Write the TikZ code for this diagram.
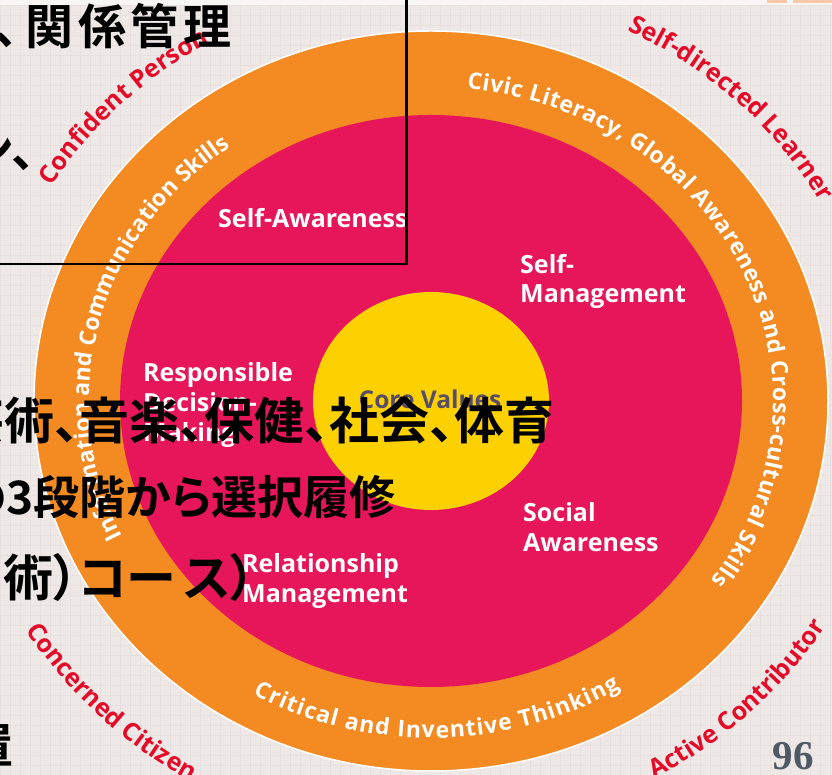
\documentclass[tikz,border=0pt]{standalone}
\usepackage{fontspec}
\usetikzlibrary{decorations.text}
\setmainfont{Open Sans}
\newfontfamily\ringfont{Open Sans}
\newfontfamily\jpfont{Noto Sans CJK JP}[BoldFont={Noto Sans CJK JP Bold}]
\newfontfamily\jpp{Noto Sans CJK JP}[BoldFont={Noto Sans CJK JP Bold},RawFeature=+palt]
\newfontfamily\numfont{Liberation Serif}
\definecolor{bgc}{HTML}{EEE8E6}
\definecolor{gridc}{HTML}{E8E0DE}
\definecolor{peach}{HTML}{F7C9A8}
\definecolor{orangec}{HTML}{F38A22}
\definecolor{magc}{HTML}{E7165B}
\definecolor{yelc}{HTML}{FDD000}
\definecolor{redc}{HTML}{E40A28}
\definecolor{corec}{HTML}{574D68}
\definecolor{slatec}{HTML}{505A66}
\newcommand\ringtext{\ringfont\bfseries\fontsize{23}{23}\selectfont}
\newcommand\redtext{\ringfont\bfseries\fontsize{25}{25}\selectfont}
\tikzset{
  lbl/.style={inner sep=0pt, anchor=base west, text=white, font=\bfseries\fontsize{25}{30}\selectfont},
  jp/.style={inner sep=0pt, anchor=base east, text=black, font=\jpp\bfseries\fontsize{48}{48}\selectfont},
  jpn/.style={inner sep=0pt, anchor=base east, text=black, font=\jpfont\bfseries\fontsize{48}{48}\selectfont},
  ringpath/.style={decorate, decoration={text along path, text color=white, text align=fit to path, text={|\ringtext|#1}}},
  redpath/.style={decorate, decoration={text along path, text color=redc, text align=center, text={|\redtext|#1}}}
}
\begin{document}
\begin{tikzpicture}[x=1pt,y=1pt]
\useasboundingbox (0,0) rectangle (832,775);
\fill[bgc] (0,0) rectangle (832,775);
\draw[gridc, line width=0.4pt, step=10] (0,0) grid (832,775);
\fill[white!60!bgc] (0,770) rectangle (832,775);
\fill[peach] (767,772) rectangle (787,775);
\fill[peach] (793,772) rectangle (832,775);
% circles
\coordinate (c) at (431,374);
\fill[orangec, draw=white, line width=1.5pt] (c) ellipse [x radius=397, y radius=370];
\fill[magc] (c) ellipse [x radius=311, y radius=286];
\fill[yelc] (c) ellipse [x radius=118, y radius=109];
% ring texts
\path[ringpath={Civic Literacy, Global Awareness and Cross-cultural Skills}]
  (c) ++(84:342 and 314) arc[start angle=84, end angle=-35, x radius=342, y radius=314];
\path[ringpath={Information and Communication Skills}]
  (c) ++(205.5:342 and 314) arc[start angle=205.5, end angle=126, x radius=342, y radius=314];
\path[ringpath={Critical and Inventive Thinking}]
  (c) ++(240.5:362 and 337) arc[start angle=240.5, end angle=301.5, x radius=362, y radius=337];
% outer red texts
\path[redpath={Confident Person}]
  (c) ++(175:444 and 413) arc[start angle=175, end angle=95, x radius=444, y radius=413];
\path[redpath={Self-directed Learner}]
  (c) ++(85.6:444 and 413) arc[start angle=85.6, end angle=5.6, x radius=444, y radius=413];
\path[redpath={Concerned Citizen}]
  (c) ++(184.7:474 and 441) arc[start angle=184.7, end angle=264.7, x radius=474, y radius=441];
\path[redpath={Active Contributor}]
  (c) ++(274.4:463 and 431) arc[start angle=274.4, end angle=354.4, x radius=463, y radius=431];
% inner labels
\node[lbl] (sa) at (218,547) {Self-Awareness};
\node[lbl] (sm1) at (520,501) {Self-};
\node[lbl] (sm2) at (520,472) {Management};
\node[lbl] (rd1) at (143,393) {Responsible};
\node[lbl] (rd2) at (143,363) {Decision-};
\node[lbl] (rd3) at (143,333) {Making};
\node[lbl] (so1) at (523,253) {Social};
\node[lbl] (so2) at (523,223) {Awareness};
\node[lbl] (rm1) at (242,202) {Relationship};
\node[lbl] (rm2) at (242,172) {Management};
\node[inner sep=0pt, anchor=base, text=corec, font=\bfseries\fontsize{24.5}{24}\selectfont] (cv) at (430,366) {Core Values};
% Japanese overlay text
\node[jpn, font=\jpfont\bfseries\fontsize{48}{48}\selectfont\addfontfeature{LetterSpace=10}] (r1) at (232,730) {、\kern-17pt 関係管理};
\node[jpn] (r2) at (60,607) {ン、};
\node[jp, font=\jpp\bfseries\fontsize{50}{50}\selectfont] (r3) at (555,335) {芸術、音楽、保健、社会、体育};
\node[jp, font=\jpp\bfseries\fontsize{46}{46}\selectfont] (r4) at (396,260) {の3段階から選択履修};
\node[jp, font=\jpp\bfseries\fontsize{50}{50}\selectfont] (r5) at (256,178) {術）コー\kern8pt ス）};
\node[jpn] (r6) at (14,11) {置};
% page number
\node[inner sep=0pt, anchor=base east, text=slatec, font=\numfont\bfseries\fontsize{41}{41}\selectfont] (pn) at (814,5) {96};
% frame
\draw[black, line width=2.5pt] (-10,511) rectangle (406.5,790);
\end{tikzpicture}
\end{document}
